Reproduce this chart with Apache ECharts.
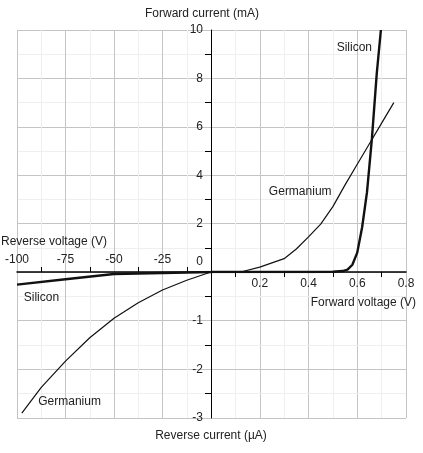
<!DOCTYPE html>
<html>
<head>
<meta charset="utf-8">
<script src="https://cdn.jsdelivr.net/npm/echarts@6/dist/echarts.min.js"></script>
<style>
  html, body { margin: 0; padding: 0; background: #fff; }
  #chart { width: 423px; height: 453px; }
</style>
</head>
<body>
<div id="chart"></div>
<script>
// forward side (V, mA)
const siliconFwd = [[0, 0], [0.1, 0], [0.2, 0], [0.3, 0], [0.4, 0], [0.5, 0.01], [0.54, 0.04], [0.56, 0.1],
  [0.58, 0.3], [0.6, 0.8], [0.62, 1.85], [0.64, 3.3], [0.66, 5.5], [0.68, 8.2], [0.697, 10]]
const germaniumFwd = [[0, 0], [0.1, 0], [0.13, 0.02], [0.2, 0.2], [0.3, 0.55], [0.35, 0.95], [0.4, 1.45],
  [0.45, 1.98], [0.5, 2.7], [0.55, 3.6], [0.6, 4.45], [0.65, 5.3], [0.7, 6.15], [0.75, 7.0]]
// reverse side (V, µA)
const siliconRev = [[0, 0], [-25, -0.02], [-50, -0.04], [-75, -0.15], [-100, -0.26]]
const germaniumRev = [[0, 0], [-12.5, -0.17], [-25, -0.37], [-37.5, -0.63], [-50, -0.95], [-62.5, -1.35],
  [-75, -1.83], [-87.5, -2.37], [-97.5, -2.9]]
// curve names and where they are written (data units)
const curveNames = ['Silicon', 'Germanium', 'Silicon', 'Germanium']
const namePos = [[0.588, 9.26], [0.366, 3.3], [-87.4, -0.52], [-72.9, -2.66]]
// axis titles
const axisTitles = ['Forward current (mA)', 'Reverse current (µA)', 'Forward voltage (V)', 'Reverse voltage (V)']

const font = 'Arial, "Liberation Sans", sans-serif'
const ink = '#222'
const gridColor = '#c4c4c4'
const minorColor = '#efefef'

let gridLine = { show: true, lineStyle: { color: gridColor, width: 1 } }
let minorLine = { show: true, lineStyle: { color: minorColor, width: 1 } }
let labelStyle = { color: ink, fontSize: 12, fontFamily: font }

// only grid lines, no axis drawn
let bare = (grid, min, max, interval) => ({
	type: 'value', gridIndex: grid, min: min, max: max, interval: interval, z: 0,
	axisLine: { show: false }, axisTick: { show: false }, axisLabel: { show: false },
	splitLine: gridLine, minorSplitLine: minorLine, minorTick: { show: false, splitNumber: 2 }
})

let option = {
	animation: false,
	backgroundColor: '#fff',
	textStyle: { fontFamily: font },
	grid: [
		{ left: 17, top: 30, width: 194, height: 242, outerBoundsMode: 'none' },
		{ left: 211, top: 30, width: 195, height: 242, outerBoundsMode: 'none' },
		{ left: 17, top: 272, width: 194, height: 146, outerBoundsMode: 'none' },
		{ left: 211, top: 272, width: 195, height: 146, outerBoundsMode: 'none' }
	],
	xAxis: [
		// reverse voltage, labels above the line
		Object.assign(bare(0, -100, 0, 25), {
			position: 'bottom', z: 3,
			axisLine: { show: true, onZero: false, lineStyle: { color: '#000', width: 1.5 } },
			axisTick: { show: false, inside: true },
			minorTick: { show: true, splitNumber: 2, length: 5, lineStyle: { color: '#000', width: 1 } },
			axisLabel: Object.assign({ show: true, inside: true, margin: 6, showMaxLabel: false }, labelStyle),
			name: axisTitles[3], nameLocation: 'start', nameGap: 16,
			nameTextStyle: Object.assign({ align: 'left', verticalAlign: 'bottom', padding: [0, 0, 24, 0] }, labelStyle)
		}),
		// forward voltage
		Object.assign(bare(1, 0, 0.8, 0.2), {
			position: 'bottom', z: 3,
			axisLine: { show: true, onZero: false, lineStyle: { color: '#000', width: 1.5 } },
			axisTick: { show: false },
			minorTick: { show: true, splitNumber: 2, length: 5, lineStyle: { color: '#000', width: 1 } },
			axisLabel: Object.assign({ show: true, margin: 6, showMinLabel: false }, labelStyle),
			name: axisTitles[2], nameLocation: 'end', nameGap: 10,
			nameTextStyle: Object.assign({ align: 'right', verticalAlign: 'top', padding: [25, 0, 0, 0] }, labelStyle)
		}),
		bare(2, -100, 0, 25),
		bare(3, 0, 0.8, 0.2)
	],
	yAxis: [
		// only carries the "0" label
		Object.assign(bare(0, 0, 10, 2), {
			position: 'right',
			axisLabel: Object.assign({
				show: true, inside: true, margin: 8, verticalAlign: 'bottom', padding: [0, 0, 4, 0],
				formatter: v => v === 0 ? '0' : ''
			}, labelStyle)
		}),
		// forward current
		Object.assign(bare(1, 0, 10, 2), {
			position: 'left', z: 3,
			axisLine: { show: true, onZero: false, lineStyle: { color: '#000', width: 1 } },
			axisTick: { show: false },
			minorTick: { show: true, splitNumber: 2, length: 6, lineStyle: { color: '#000', width: 1 } },
			axisLabel: Object.assign({ show: true, margin: 8, showMinLabel: false }, labelStyle),
			name: axisTitles[0], nameLocation: 'end', nameGap: 10,
			nameTextStyle: Object.assign({ padding: [0, 18, 0, 0] }, labelStyle)
		}),
		bare(2, -3, 0, 1),
		// reverse current
		Object.assign(bare(3, -3, 0, 1), {
			position: 'left', z: 3,
			axisLine: { show: true, onZero: false, lineStyle: { color: '#000', width: 1 } },
			axisTick: { show: false },
			minorTick: { show: true, splitNumber: 2, length: 6, lineStyle: { color: '#000', width: 1 } },
			axisLabel: Object.assign({ show: true, margin: 8, showMaxLabel: false }, labelStyle),
			name: axisTitles[1], nameLocation: 'start', nameGap: 12,
			nameTextStyle: Object.assign({ verticalAlign: 'top' }, labelStyle)
		})
	],
	series: []
}

// one line per curve, each in its own quadrant
let curves = [
	{ data: siliconFwd, grid: 1, width: 2.4 },
	{ data: germaniumFwd, grid: 1, width: 1.2 },
	{ data: siliconRev, grid: 2, width: 2.4 },
	{ data: germaniumRev, grid: 2, width: 1.2 }
]
curves.forEach((c, i) => {
	option.series.push({
		type: 'line',
		name: curveNames[i],
		xAxisIndex: c.grid,
		yAxisIndex: c.grid,
		data: c.data,
		showSymbol: false,
		symbol: 'none',
		z: 5,
		lineStyle: { color: '#111', width: c.width },
		markPoint: {
			symbol: 'circle',
			symbolSize: 0,
			silent: true,
			label: Object.assign({ show: true, position: 'inside', formatter: curveNames[i] }, labelStyle),
			data: [{ coord: namePos[i] }]
		}
	})
})

let chart = echarts.init(document.getElementById('chart'), null, { renderer: 'canvas' })
chart.setOption(option)
</script>
</body>
</html>
